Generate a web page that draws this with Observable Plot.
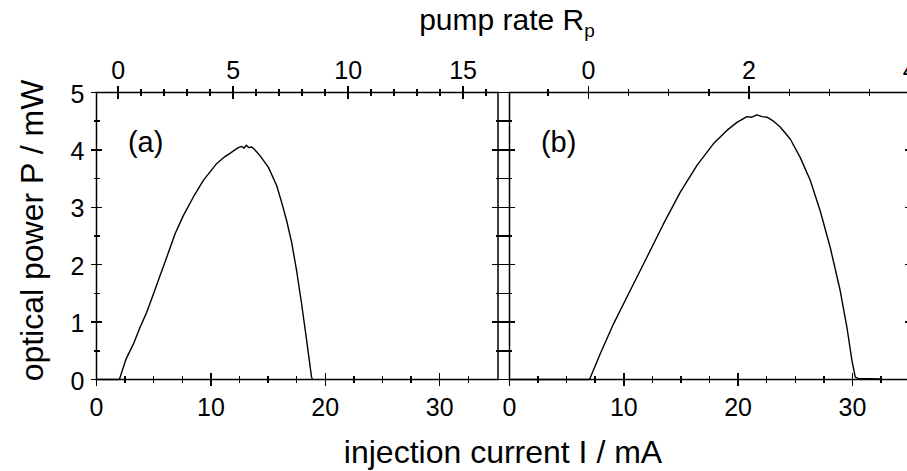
<!DOCTYPE html>
<html><head><meta charset="utf-8">
<script src="https://cdn.jsdelivr.net/npm/d3@7"></script>
<script src="https://cdn.jsdelivr.net/npm/@observablehq/plot@0.6"></script>
<style>
body{margin:0;background:#fff;}
#wrap{position:relative;width:907px;height:471px;overflow:hidden;background:#fff;font-family:"Liberation Sans",Arial,sans-serif;color:#000;}
#wrap > div, #wrap > svg{position:absolute;top:0;}
</style></head><body>
<div id="wrap">
  <div id="pa" style="left:0px"></div>
  <div id="pb" style="left:480px"></div>
  <svg id="titles" width="907" height="471" style="left:0;overflow:visible" font-family="Liberation Sans, Arial, sans-serif" fill="#000">
    <text x="503" y="463" text-anchor="middle" font-size="32">injection current I / mA</text>
    <text transform="translate(43,230.5) rotate(-90)" text-anchor="middle" font-size="32">optical power P / mW</text>
    <text x="507" y="29.5" text-anchor="middle" font-size="30">pump rate R<tspan font-size="19" dy="7">p</tspan></text>
  </svg>
</div>
<script>
// ---- data ----
const currentA = [0, 2.0, 2.59, 3.23, 3.81, 4.39, 4.98, 5.56, 6.14, 6.87, 7.6, 8.47, 9.34, 10.5, 11.2, 11.67, 12.1, 12.4, 12.7, 12.9, 13.1, 13.3, 13.56, 13.8, 14.29, 15.02, 15.75, 16.18, 16.62, 17.06, 17.49, 17.93, 18.37, 18.8, 18.9];
const powerA   = [0, 0, 0.36, 0.62, 0.91, 1.17, 1.49, 1.81, 2.13, 2.54, 2.86, 3.18, 3.47, 3.76, 3.88, 3.94, 4.00, 4.04, 4.06, 4.03, 4.08, 4.04, 4.05, 4.01, 3.90, 3.70, 3.38, 3.09, 2.77, 2.39, 1.90, 1.32, 0.68, 0.04, 0];
const currentB = [0, 7.0, 7.94, 9.1, 10.56, 12.02, 13.47, 14.93, 16.4, 17.85, 19.02, 19.9, 20.77, 21.2, 21.64, 22.1, 22.52, 23.1, 23.68, 24.56, 25.43, 26.31, 27.18, 28.06, 28.93, 29.52, 29.96, 30.25, 30.5, 32.5];
const powerB   = [0, 0, 0.45, 0.97, 1.55, 2.13, 2.71, 3.26, 3.73, 4.11, 4.34, 4.48, 4.58, 4.57, 4.61, 4.58, 4.57, 4.50, 4.40, 4.19, 3.87, 3.47, 2.94, 2.30, 1.55, 0.91, 0.33, 0.04, 0.02, 0.01];

const xMajorTicks = [0, 10, 20, 30];
const xMinorTicks = [2.5, 5, 7.5, 12.5, 15, 17.5, 22.5, 25, 27.5, 32.5];
const yMajorTicks = [0, 1, 2, 3, 4, 5];
const yMinorTicks = [0.5, 1.5, 2.5, 3.5, 4.5];

const pumpMajorA = [0, 5, 10, 15];
const pumpMinorA = [1, 2, 3, 4, 6, 7, 8, 9, 11, 12, 13, 14, 16];
const pumpMajorB = [0, 2, 4];
const pumpMinorB = [-0.5, 0.5, 1, 1.5, 2.5, 3, 3.5];
// pump rate axis: current (mA) at R_p = 0 and mA per unit of R_p
const thresholdA = 1.9, mAPerPumpA = 2.01;
const thresholdB = 6.9, mAPerPumpB = 7.03;

const panelLabels = ["(a)", "(b)"];

function panel({current, power, pumpMajor, pumpMinor, thr, slope, label, width, ml, mr, leftIn, leftOut, rightIn, rightOut, yLabels}) {
  const H = 471, mt = 92, mb = 92;
  const fh = H - mt - mb, fw = width - ml - mr;
  const domain = [0, 35.1];
  const yMax = 5;
  const py = p => p * yMax / fh;                       // tick length in px -> y units
  const pxl = p => p * (domain[1] - domain[0]) / fw;   // tick length in px -> x units
  const toI = r => thr + slope * r;
  const inDom = v => v >= domain[0] - 1e-9 && v <= domain[1] + 1e-9;
  const data = current.map((c, i) => ({I: c, P: power[i]}));
  const ts = {stroke: "black", strokeWidth: 1.5, shapeRendering: "crispEdges"};
  const xTicks = (vals, y0, up, down) => Plot.link(vals, {x1: d => d, x2: d => d, y1: y0 - py(down), y2: y0 + py(up), ...ts});
  const yTicks = (vals, x0, left, right) => Plot.link(vals, {y1: d => d, y2: d => d, x1: x0 - pxl(left), x2: x0 + pxl(right), ...ts});
  const marks = [
    Plot.frame({stroke: "black", strokeWidth: 1.5}),
    // bottom axis
    xTicks(xMajorTicks, 0, 6.5, 6.5),
    xTicks(xMinorTicks.filter(inDom), 0, 3.5, 3.5),
    Plot.axisX({anchor: "bottom", ticks: xMajorTicks, tickSize: 0, tickPadding: 19, fontSize: 25, label: null, tickFormat: d => String(d)}),
    // top axis (pump rate)
    xTicks(pumpMajor.map(toI).filter(inDom), yMax, 6.5, 6.5),
    xTicks(pumpMinor.map(toI).filter(inDom), yMax, 3.5, 3.5),
    Plot.text(pumpMajor, {x: toI, frameAnchor: "top", dy: -14, lineAnchor: "bottom", text: d => String(d), fontSize: 25, fill: "black"}),
    // left side ticks
    yTicks(yMajorTicks, domain[0], leftOut[0], leftIn[0]),
    yTicks(yMinorTicks, domain[0], leftOut[1], leftIn[1]),
    // right side ticks
    yTicks(yMajorTicks, domain[1], rightIn[0], rightOut[0]),
    yTicks(yMinorTicks, domain[1], rightIn[1], rightOut[1]),
    // data
    Plot.line(data, {x: "I", y: "P", stroke: "black", strokeWidth: 1.4}),
    Plot.text([label], {x: 2.75, y: 4.13, text: d => d, textAnchor: "start", lineAnchor: "middle", fontSize: 29, fill: "black"})
  ];
  if (yLabels) marks.push(Plot.axisY({anchor: "left", ticks: yMajorTicks, tickSize: 0, tickPadding: 12, fontSize: 25, dy: 2, label: null, tickFormat: d => String(d)}));
  return Plot.plot({
    width, height: H,
    marginLeft: ml, marginRight: mr, marginTop: mt, marginBottom: mb,
    x: {domain},
    y: {domain: [0, yMax], axis: yLabels ? undefined : null},
    style: {background: "transparent", maxWidth: "none", overflow: "visible", fontFamily: "Liberation Sans, Arial, sans-serif", color: "black"},
    marks
  });
}

document.getElementById("pa").append(panel({
  current: currentA, power: powerA, pumpMajor: pumpMajorA, pumpMinor: pumpMinorA,
  thr: thresholdA, slope: mAPerPumpA, label: panelLabels[0],
  width: 520, ml: 96, mr: 22.5,
  leftIn: [5.5, 3], leftOut: [5.5, 3], rightIn: [5.6, 2.5], rightOut: [11.5, 11.5], yLabels: true
}));
document.getElementById("pb").append(panel({
  current: currentB, power: powerB, pumpMajor: pumpMajorB, pumpMinor: pumpMinorB,
  thr: thresholdB, slope: mAPerPumpB, label: panelLabels[1],
  width: 450, ml: 29, mr: 19.8,
  leftIn: [5.6, 2.5], leftOut: [11.5, 11.5], rightIn: [6, 3], rightOut: [6, 3], yLabels: false
}));
</script>
</body></html>
